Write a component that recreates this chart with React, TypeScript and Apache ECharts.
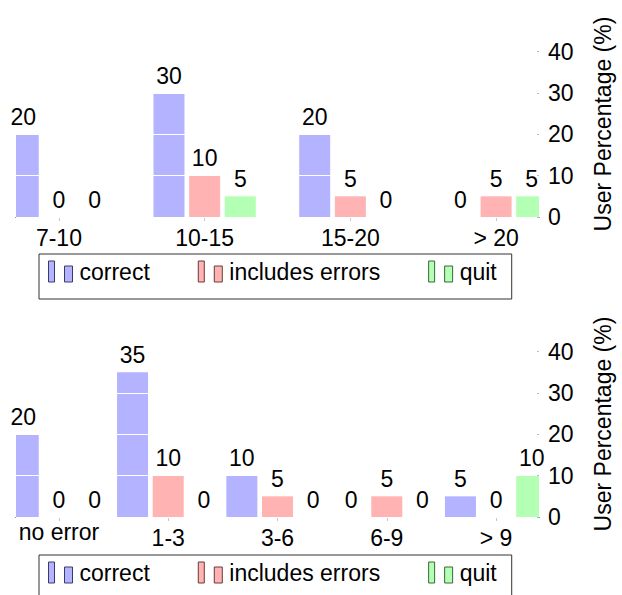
import React, { useEffect, useRef } from "react";
import * as echarts from "echarts";

const topCats = ["7-10", "10-15", "15-20", "> 20"];
const topCorrect = [20, 30, 20, 0];
const topErrors = [0, 10, 5, 5];
const topQuit = [0, 5, 0, 5];

const botCats = ["no error", "1-3", "3-6", "6-9", "> 9"];
const botCorrect = [20, 35, 10, 0, 5];
const botErrors = [0, 10, 5, 5, 0];
const botQuit = [0, 0, 0, 0, 10];

const yTicks = [0, 10, 20, 30, 40];
const seriesNames = ["correct", "includes errors", "quit"];
const fills = ["#b3b3ff", "#ffb3b3", "#b3ffb3"];
const borders = ["#3a3a66", "#663a3a", "#3a663a"];

const FONT = "Liberation Sans";
const FS = 23;
const BAR_W = 31;
const BAR_GAP = 0.15;

export default function App() {
  const ref = useRef<HTMLDivElement>(null);
  useEffect(() => {
    document.body.style.margin = "0";
    document.body.style.overflow = "hidden";
    const chart = echarts.init(ref.current!, undefined, { renderer: "svg" });

    const pairs = (arr: number[]) => arr.map((v, i) => [i, v]);
    const idx = (n: number) => Array.from({ length: n }, (_, i) => i);

    const makeX = (grid: number, cats: string[], ext: number, margin: number) => {
      const n = cats.length;
      const base = {
        gridIndex: grid,
        type: "value",
        min: -ext,
        max: n - 1 + ext,
        splitLine: { show: false },
      };
      return [
        {
          ...base,
          axisLine: { show: true, onZero: false, lineStyle: { color: "#000", width: 1 } },
          axisTick: { show: true, customValues: idx(n), length: 4, lineStyle: { color: "#c8c8c8" } },
          axisLabel: {
            show: true,
            customValues: idx(n),
            margin,
            fontSize: FS,
            lineHeight: FS,
            fontFamily: FONT,
            color: "#000",
            formatter: (v: number) => {
              const i = Math.round(v);
              const s = cats[i] ?? "";
              return s === "no error" ? "{up|" + s + "}" : s;
            },
            rich: { up: { fontSize: FS, fontFamily: FONT, color: "#000", lineHeight: FS - 12 } },
          },
        },
        { ...base, show: false },
      ];
    };

    const makeY = (grid: number) => ({
      gridIndex: grid,
      type: "value",
      position: "right",
      min: 0,
      max: 45,
      z: 2,
      axisLine: { show: false, onZero: false },
      axisTick: { show: true, inside: true, length: 2, customValues: yTicks, lineStyle: { color: "#bbb" } },
      axisLabel: { customValues: yTicks, margin: 9, fontSize: FS, fontFamily: FONT, color: "#000" },
      splitLine: { show: true, lineStyle: { color: "#ffffff", width: 1 } },
      name: "User Percentage (%)",
      nameLocation: "middle",
      nameRotate: 90,
      nameGap: 52,
      nameTextStyle: { fontSize: FS, fontFamily: FONT, color: "#000" },
    });

    const makeSeries = (grid: number, datasets: number[][]) => {
      const out: any[] = [];
      const step = BAR_W * (1 + BAR_GAP);
      datasets.forEach((d, k) => {
        const offset = (k - (datasets.length - 1) / 2) * step;
        out.push({
          type: "custom",
          name: seriesNames[k],
          xAxisIndex: grid * 2,
          yAxisIndex: grid,
          data: pairs(d),
          clip: true,
          z: 1,
          itemStyle: { color: fills[k] },
          renderItem: (params: any, api: any) => {
            const x = api.value(0);
            const y = api.value(1);
            const p0 = api.coord([x, 0]);
            const p1 = api.coord([x, y]);
            return {
              type: "rect",
              shape: { x: p0[0] + offset - BAR_W / 2, y: p1[1], width: BAR_W, height: p0[1] - p1[1] },
              style: { fill: fills[k] },
            };
          },
        });
      });
      datasets.forEach((d, k) => {
        out.push({
          type: "bar",
          name: seriesNames[k] + " label",
          xAxisIndex: grid * 2 + 1,
          yAxisIndex: grid,
          data: pairs(d),
          barWidth: BAR_W,
          barGap: BAR_GAP * 100 + "%",
          z: 3,
          silent: true,
          itemStyle: { color: "rgba(0,0,0,0)" },
          label: {
            show: true,
            position: "top",
            distance: 6,
            fontSize: FS,
            fontFamily: FONT,
            color: "#000",
            formatter: (p: any) => String(p.value[1]),
          },
        });
      });
      return out;
    };

    const makeLegend = (top: number) => ({
      left: 39,
      top,
      orient: "horizontal",
      padding: [6, 15, 16, 9],
      borderColor: "#333",
      borderWidth: 1,
      itemGap: 48,
      itemWidth: 24,
      itemHeight: 21,
      icon: "path://M0,0H6V21H0Z M16,5H24V21H16Z",
      textStyle: { fontSize: FS, fontFamily: FONT, color: "#000", padding: [0, 0, 0, 2] },
      data: seriesNames.map((n, k) => ({
        name: n,
        itemStyle: { color: fills[k], borderColor: borders[k], borderWidth: 1 },
      })),
    });

    chart.setOption({
      animation: false,
      textStyle: { fontFamily: FONT },
      grid: [
        { left: 16, right: 82, top: 31, bottom: 378 },
        { left: 16, right: 82, top: 331, bottom: 78 },
      ],
      xAxis: [
        ...makeX(0, topCats, 43 / 146, 9),
        ...makeX(1, botCats, 43 / 109.5, 9),
      ],
      yAxis: [makeY(0), makeY(1)],
      legend: [makeLegend(254), makeLegend(555)],
      series: [
        ...makeSeries(0, [topCorrect, topErrors, topQuit]),
        ...makeSeries(1, [botCorrect, botErrors, botQuit]),
      ],
    });
    return () => chart.dispose();
  }, []);
  return <div ref={ref} style={{ width: 622, height: 595 }} />;
}
